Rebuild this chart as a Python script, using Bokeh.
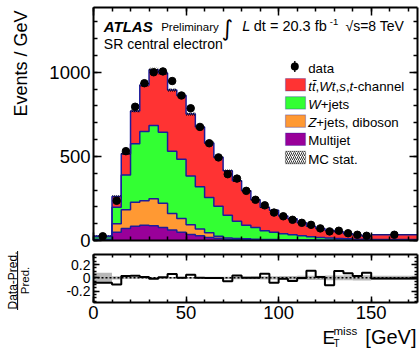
import numpy as np
from bokeh.plotting import figure
from bokeh.models import (LinearAxis, SingleIntervalTicker, Label, BoxAnnotation, Span,
                          CustomJSTickFormatter, Range1d)
from bokeh.layouts import column, row
from bokeh.embed import file_html
from bokeh.resources import INLINE

# ---------------- data (Events / GeV) ----------------
bin_edges = [0, 10, 15, 20, 25, 30, 35, 40, 45, 50, 55, 60, 65, 70, 75, 80, 85, 90, 95,
             100, 105, 110, 115, 120, 125, 130, 135, 140, 145, 150, 175]
multijet = [3, 49, 71, 84, 90, 88, 78, 63, 49, 36, 28, 18, 13, 8, 6, 5, 4, 3, 3, 2, 2, 2,
            1.5, 1.2, 1, 1, 0.8, 0.7, 0.6, 0.5]
zjets_diboson = [4, 51, 112, 143, 147, 160, 144, 97, 82, 57, 41, 28, 13, 7, 6, 5, 4, 3, 2.5,
                 2, 1.5, 1.2, 1, 0.8, 0.7, 0.6, 0.5, 0.4, 0.4, 0.3]
wjets = [15, 97, 206, 348, 411, 435, 422, 370, 352, 290, 251, 210, 177, 135, 103, 81, 70, 52,
         44, 36, 30, 25, 20, 16, 13, 11, 9, 7, 6, 4.5]
top_single_top = [5, 65, 127, 195, 277, 332, 351, 365, 379, 369, 354, 324, 292, 265, 240, 204,
                  164, 139, 130, 106, 95.5, 77, 61.5, 53, 46, 40, 30, 25, 19, 29]
data = [25, 236, 531, 795, 935, 1000, 1005, 948, 862, 786, 675, 578, 494, 394, 368, 295, 242,
        209, 166, 144, 123, 105, 93, 72, 54, 58, 43, 34, 28, 34]
mc_stat_rel = [0.075, 0.025, 0.015, 0.012, 0.012, 0.012, 0.012, 0.012, 0.012, 0.013, 0.014,
               0.015, 0.016, 0.018, 0.02, 0.02, 0.022, 0.024, 0.025, 0.027, 0.028, 0.03, 0.032,
               0.033, 0.035, 0.036, 0.038, 0.04, 0.04, 0.03]

FONT = "Liberation Sans"
OUTLINE = "#1c1c9c"
RED, GREEN, ORANGE, PURPLE = "#ff3333", "#33ff33", "#ff9933", "#990099"

edges = np.array(bin_edges, float)
lo, hi = edges[:-1], edges[1:]
centers = 0.5 * (lo + hi)
widths = hi - lo
step_x = np.repeat(edges, 2)[1:-1]

# ---------------- page geometry (page pixels) ----------------
STRIP_W = 36
COL_W = 384
COL_X = STRIP_W
FRAME_L = 93
LEFT = FRAME_L - COL_X
RIGHT = 3
MAIN_TOP, FRAME_H, MAIN_BOT = 7, 233, 12
MAIN_H = MAIN_TOP + FRAME_H + MAIN_BOT
R_TOP, RFRAME_H, R_BOT = 2, 48, 22
R_H = R_TOP + RFRAME_H + R_BOT
XL_H = 348 - MAIN_H - R_H
BASE_SHIFT = 0.24   # compensation so that the glyph baseline lands on the anchor


def style(ax, major_in, minor_in, label_size=None, standoff=3):
    ax.axis_line_color = "black"
    ax.axis_line_width = 2
    ax.major_tick_in = major_in
    ax.major_tick_out = 0
    ax.minor_tick_in = minor_in
    ax.minor_tick_out = 0
    ax.major_tick_line_width = 1.5
    ax.minor_tick_line_width = 1.5
    ax.major_tick_line_color = "black"
    ax.minor_tick_line_color = "black"
    if label_size:
        ax.major_label_text_font = FONT
        ax.major_label_text_font_size = label_size
        ax.major_label_text_color = "black"
        ax.major_label_standoff = standoff
    else:
        ax.formatter = CustomJSTickFormatter(code="return '';")
        ax.major_label_text_font_size = "1px"
        ax.major_label_standoff = 0


def lab(fig, x, y, text, size, style_="normal", align="left", angle=0, font=FONT):
    if angle == 0:
        y = y + BASE_SHIFT * size
    else:
        x = x - BASE_SHIFT * size
    fig.add_layout(Label(x=x, y=y, x_units="screen", y_units="screen", text=text,
                         text_font=font, text_font_size=f"{size}px", text_font_style=style_,
                         text_align=align, text_baseline="alphabetic", angle=angle,
                         text_color="black"))


def box(fig, l, r, b, t, **kw):
    fig.add_layout(BoxAnnotation(left=l, right=r, bottom=b, top=t, left_units="screen",
                                 right_units="screen", bottom_units="screen",
                                 top_units="screen", **kw))


# ---------------- main panel ----------------
p = figure(width=COL_W, height=MAIN_H, x_range=Range1d(0, 175), y_range=Range1d(0, 1385),
           output_backend="svg", toolbar_location=None, tools="",
           min_border_left=LEFT, min_border_right=RIGHT, min_border_top=MAIN_TOP,
           min_border_bottom=MAIN_BOT)
p.outline_line_color = None
p.xgrid.visible = False
p.ygrid.visible = False
p.xaxis[0].ticker = SingleIntervalTicker(interval=50, num_minor_ticks=5)
style(p.xaxis[0], 8, 4)
p.yaxis[0].ticker = SingleIntervalTicker(interval=500, num_minor_ticks=5)
style(p.yaxis[0], 8, 4, "18.5px", 3)
ax_top = LinearAxis(ticker=SingleIntervalTicker(interval=50, num_minor_ticks=5))
style(ax_top, 8, 4)
p.add_layout(ax_top, "above")
ax_r = LinearAxis(ticker=SingleIntervalTicker(interval=500, num_minor_ticks=5))
style(ax_r, 8, 4)
p.add_layout(ax_r, "right")

layers = [(multijet, PURPLE), (zjets_diboson, ORANGE), (wjets, GREEN), (top_single_top, RED)]
base = np.zeros(len(lo))
uppers = []
for vals, col in layers:
    upper = base + np.array(vals, float)
    xs = np.concatenate([step_x, step_x[::-1]])
    ys = np.concatenate([np.repeat(upper, 2), np.repeat(base, 2)[::-1]])
    p.patch(xs, ys, fill_color=col, line_color=None)
    uppers.append(upper)
    base = upper
for upper in uppers:
    p.line(step_x, np.repeat(upper, 2), line_color=OUTLINE, line_width=1.5)

total = base
rel = np.array(mc_stat_rel)
p.quad(left=lo, right=hi, bottom=total * (1 - rel), top=total * (1 + rel), fill_alpha=0,
       line_color=None, hatch_pattern="/", hatch_color="black", hatch_scale=4,
       hatch_weight=0.8)

d = np.array(data, float)
derr = np.sqrt(d * widths) / widths
p.segment(x0=centers, y0=d - derr, x1=centers, y1=d + derr, line_color="black", line_width=1.5)
p.scatter(centers, d, size=7.5, color="black")

FB = MAIN_TOP + FRAME_H


def sx(px):
    return px - FRAME_L


def sy(py):
    return FB - py


lab(p, sx(103.3), sy(29.3), "ATLAS", 15, "bold italic")
lab(p, sx(160.7), sy(29.3), "Preliminary", 11.5)
lab(p, sx(221), sy(33), "\u222b", 22, font="DejaVu Sans")
lab(p, sx(241.7), sy(29.3), "L", 14.5, "italic")
lab(p, sx(253.3), sy(29.3), "dt = 20.3 fb", 14.5)
lab(p, sx(329.3), sy(23.3), "-1", 9.5)
lab(p, sx(345), sy(29.3), "\u221as=8 TeV", 14)
lab(p, sx(103.3), sy(46.7), "SR central electron", 14)

WID = {'t': 278, ',': 278, 'W': 944, 's': 500, '-': 333, 'c': 500, 'h': 556, 'a': 556,
       'n': 556, 'e': 556, 'l': 222, '+': 584, 'j': 222, 'Z': 611, ' ': 278, 'd': 556,
       'i': 222, 'b': 556, 'o': 556}
LEG_FS = 13.3
LEG_TX = 307.7
BOX_L, BOX_R = 285, 305


def seg_row(px, py_center, segs):
    x = px
    for text, st in segs:
        lab(p, sx(x), sy(py_center + 4.8), text, LEG_FS, st)
        x += sum(WID.get(ch, 556) for ch in text if ch != "\u0304") * LEG_FS / 1000


rows_y = [66 + 18.2 * i for i in range(6)]
box(p, sx(290.3), sx(298.3), sy(rows_y[0] + 4), sy(rows_y[0] - 4), fill_color="black",
    fill_alpha=1, line_color=None, border_radius=4)
box(p, sx(293.6), sx(295.0), sy(rows_y[0] + 5.5), sy(rows_y[0] - 5.5), fill_color="black",
    fill_alpha=1, line_color=None)
seg_row(LEG_TX, rows_y[0], [("data", "normal")])
legend_cols = [RED, GREEN, ORANGE, PURPLE]
for i, col in enumerate(legend_cols):
    yc = rows_y[i + 1]
    box(p, sx(BOX_L), sx(BOX_R), sy(yc + 6.2), sy(yc - 6.2), fill_color=col, fill_alpha=1,
        line_color=OUTLINE, line_width=1.2)
yc = rows_y[5]
box(p, sx(BOX_L), sx(BOX_R), sy(yc + 6.2), sy(yc - 6.2), fill_color="white", fill_alpha=1,
    line_color="black", line_width=1.2, hatch_pattern="/", hatch_color="black",
    hatch_scale=4, hatch_weight=0.8)
seg_row(LEG_TX, rows_y[1], [("t", "italic"), ("t\u0304", "italic"), (",", "normal"),
                            ("W", "italic"), ("t", "italic"), (",", "normal"),
                            ("s", "italic"), (",", "normal"), ("t", "italic"),
                            ("-channel", "normal")])
seg_row(LEG_TX, rows_y[2], [("W", "italic"), ("+jets", "normal")])
seg_row(LEG_TX, rows_y[3], [("Z", "italic"), ("+jets, diboson", "normal")])
seg_row(LEG_TX, rows_y[4], [("Multijet", "normal")])
seg_row(LEG_TX, rows_y[5], [("MC stat.", "normal")])

# ---------------- ratio panel ----------------
r = figure(width=COL_W, height=R_H, x_range=Range1d(0, 175), y_range=Range1d(-0.37, 0.35),
           output_backend="svg", toolbar_location=None, tools="",
           min_border_left=LEFT, min_border_right=RIGHT, min_border_top=R_TOP,
           min_border_bottom=R_BOT)
r.outline_line_color = None
r.xgrid.visible = False
r.ygrid.visible = False
r.xaxis[0].ticker = SingleIntervalTicker(interval=50, num_minor_ticks=5)
style(r.xaxis[0], 6, 3, "18.5px", 3)
r.yaxis[0].ticker = SingleIntervalTicker(interval=0.2, num_minor_ticks=4)
r.yaxis[0].formatter = CustomJSTickFormatter(
    code="const s = tick.toFixed(1); return (s == '0.0' || s == '-0.0') ? '0' : s;")
style(r.yaxis[0], 6, 3, "14px", 3)
rt = LinearAxis(ticker=SingleIntervalTicker(interval=50, num_minor_ticks=5))
style(rt, 6, 3)
r.add_layout(rt, "above")
rr = LinearAxis(ticker=SingleIntervalTicker(interval=0.2, num_minor_ticks=4))
style(rr, 6, 3)
r.add_layout(rr, "right")

r.quad(left=lo, right=hi, bottom=-rel, top=rel, fill_color="#b8b8b8", line_color=None)
r.add_layout(Span(location=0, dimension="width", line_color="black", line_width=1.5,
                  line_dash="2 2"))
ratio = d / total - 1
r.line(step_x, np.repeat(ratio, 2), line_color="black", line_width=2)


def bare(width, height, left=0, right=0):
    f = figure(width=width, height=height, x_range=Range1d(0, 1), y_range=Range1d(0, 1),
               output_backend="svg", toolbar_location=None, tools="",
               x_axis_location=None, y_axis_location=None, min_border_left=left,
               min_border_right=right, min_border_top=0, min_border_bottom=0)
    f.outline_line_color = None
    f.xgrid.visible = False
    f.ygrid.visible = False
    return f


# ---------------- left strip with the y titles ----------------
strip = bare(STRIP_W, 348)


def tsx(px):
    return px


def tsy(py):
    return 348 - py


lab(strip, tsx(24.5), tsy(10), "Events / GeV", 18, align="right", angle=np.pi / 2)
lab(strip, tsx(15.3), tsy(280), "Data-Pred.", 12, align="center", angle=np.pi / 2)
lab(strip, tsx(27.5), tsy(280), "Pred.", 11.5, align="center", angle=np.pi / 2)
box(strip, tsx(16.6), tsx(17.6), tsy(309.5), tsy(250.5), fill_color="black", fill_alpha=1,
    line_color=None)

# ---------------- x title strip (frame aligned with the plots) ----------------
xl = bare(COL_W, XL_H, LEFT, RIGHT)
XL_B = 348


def xsx(px):
    return px - FRAME_L


def xsy(py):
    return XL_B - py


lab(xl, xsx(322), xsy(341.5), "E", 19)
lab(xl, xsx(333), xsy(333.5), "miss", 11.5)
lab(xl, xsx(333), xsy(345), "T", 10)
lab(xl, xsx(416), xsy(341.5), "[GeV]", 20, align="right")

layout = row(strip, column(p, r, xl))
open("out.html", "w").write(file_html(layout, INLINE))
